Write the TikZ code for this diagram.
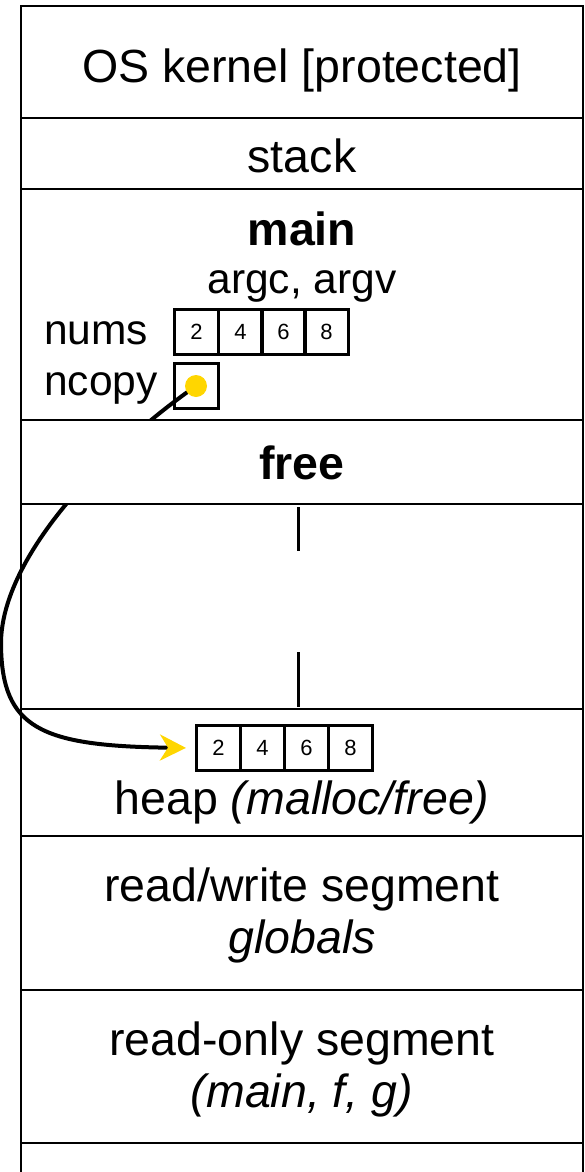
\documentclass[tikz,border=0pt]{standalone}
\usepackage{fontspec}
\setmainfont{Liberation Sans}
\usetikzlibrary{arrows.meta}
\definecolor{dotyellow}{HTML}{FFD600}
\begin{document}
\begin{tikzpicture}[x=1pt,y=1pt,
  seg/.style={line width=2pt},
  big/.style={font=\fontsize{46.5}{54}\selectfont, inner sep=0pt, anchor=base},
  lab/.style={font=\fontsize{42.5}{50}\selectfont, inner sep=0pt, anchor=base},
  cell/.style={draw, line width=2.8pt, minimum width=44pt, minimum height=45pt, inner sep=0pt, anchor=north west, font=\fontsize{22}{26}\selectfont},
  ptr/.style={line width=4pt, -{Stealth[length=26pt,width=26pt,inset=8pt,color=dotyellow]}},
  gap/.style={line width=3pt}]
\useasboundingbox (0,0) rectangle (585,-1172);

% pointer (drawn first, hidden below the free band)
\coordinate (dotc) at (196,-386);
\node[cell] (h1) at (195,-724) {2};
\node[cell] (h2) at (239,-724) {4};
\node[cell] (h3) at (283,-724) {6};
\node[cell] (h4) at (327,-724) {8};
\draw[ptr] (dotc) .. controls (112,-444) and (0,-555) .. (1,-645)
  .. controls (2,-728) and (40,-746) .. ([xshift=-9pt]h1.west);

% free band covers the pointer
\fill[white] (21,-420) rectangle (583,-504);

% outer frame
\draw[seg] (21,-1180) -- (21,-6) -- (583,-6) -- (583,-1180);
\foreach \y in {118,189,420,504,709,836,990,1143}
  \draw[seg] (21,-\y) -- (583,-\y);

% texts
\node[big] (kern) at (302,-82) {OS kernel [protected]};
\node[big] (stk) at (302,-172) {stack};
\node[big] (mainl) at (302,-245) {\bfseries main};
\node[lab] (args) at (302,-293) {argc, argv};
\node[lab,anchor=base west] (nums) at (44,-344) {nums};
\node[lab,anchor=base west] (ncopy) at (44,-395) {ncopy};
\node[big] (freel) at (302,-479) {\bfseries free};
\node[big] (heap) at (302,-814) {heap \itshape(malloc/free)};
\node[big] (rw) at (302,-901) {read/write segment};
\node[big] (glob) at (302,-953) {\itshape globals};
\node[big] (ro) at (302,-1055) {read-only segment};
\node[big] (rof) at (302,-1107) {\itshape(main, f, g)};

% nums array
\node[cell] (n1) at (173,-308) {2};
\node[cell] (n2) at (217,-308) {4};
\node[cell] (n3) at (260,-308) {6};
\node[cell] (n4) at (303,-308) {8};
% ncopy box and dot
\node[cell] (nc) at (173,-362) {};
\fill[dotyellow] (dotc) circle (11pt);

% growth gap marks
\draw[gap] (298,-507) -- (298,-551);
\draw[gap] (298,-652) -- (298,-707);
\end{tikzpicture}
\end{document}
